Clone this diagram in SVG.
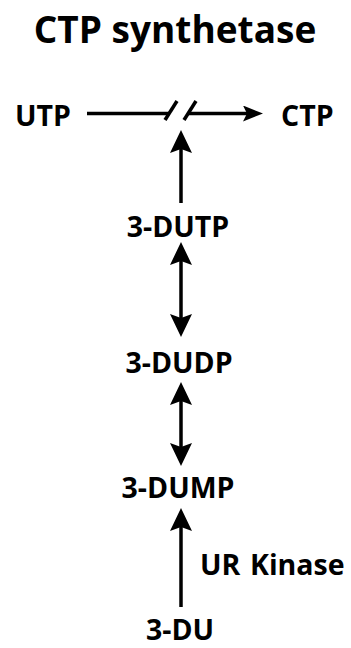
<svg xmlns="http://www.w3.org/2000/svg" width="351" height="648" viewBox="0 0 351 648">
<style>
text{font-family:"Open Sans","DejaVu Sans",sans-serif;font-weight:bold;fill:#000}
.t{font-size:37px}
.n{font-size:28.5px}
.c{stroke:#000;stroke-width:3.5;fill:none}
</style>
<defs>
<marker id="hv" viewBox="0 0 23 22" refX="8" refY="11" markerWidth="23" markerHeight="22" markerUnits="userSpaceOnUse" orient="auto-start-reverse">
<path d="M0,0 L23,11 L0,22 L4,11 z" fill="#000"/>
</marker>
<marker id="hh" viewBox="0 0 20 16" refX="6" refY="8" markerWidth="20" markerHeight="16" markerUnits="userSpaceOnUse" orient="auto">
<path d="M0,0 L20,8 L0,16 L4,8 z" fill="#000"/>
</marker>
</defs>
<rect width="351" height="648" fill="#fff"/>
<g id="title"><text class="t" x="175" y="43" text-anchor="middle">CTP synthetase</text></g>
<g id="utp"><text class="n" x="15" y="126">UTP</text></g>
<g id="ctp"><text class="n" x="281" y="126">CTP</text></g>
<g id="dutp"><text class="n" x="178" y="237" text-anchor="middle">3-DUTP</text></g>
<g id="dudp"><text class="n" x="179" y="373" text-anchor="middle">3-DUDP</text></g>
<g id="dump"><text class="n" x="178" y="498" text-anchor="middle">3-DUMP</text></g>
<g id="du"><text class="n" x="180" y="640" text-anchor="middle">3-DU</text></g>
<g id="label"><text class="n" x="200" y="575">UR</text><text class="n" x="250" y="575">Kinase</text></g>
<g id="connectors">
<path class="c" d="M87,113.5 H170"/>
<path class="c" d="M165,120 L177,101"/>
<path class="c" d="M184,120 L196,101"/>
<path class="c" d="M188,113.5 H249" marker-end="url(#hh)"/>
<path class="c" d="M181,203 V145" marker-end="url(#hv)"/>
<path class="c" d="M181,257 V322" marker-start="url(#hv)" marker-end="url(#hv)"/>
<path class="c" d="M181,397 V451" marker-start="url(#hv)" marker-end="url(#hv)"/>
<path class="c" d="M181,607 V523" marker-end="url(#hv)"/>
</g>
</svg>
